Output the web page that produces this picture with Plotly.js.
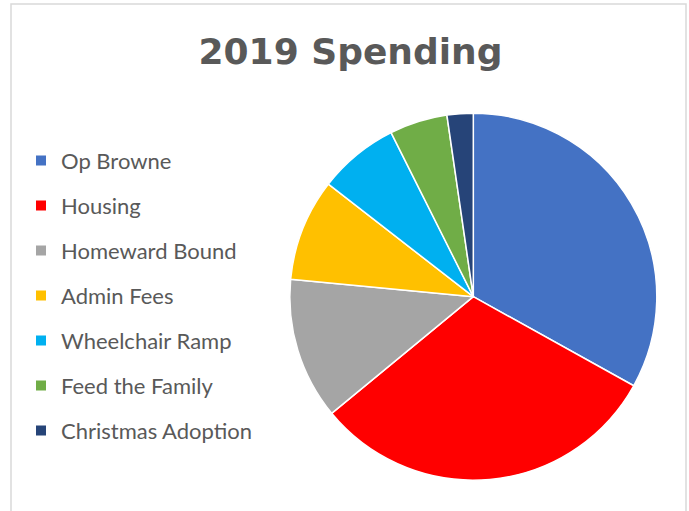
<!DOCTYPE html>
<html>
<head>
<meta charset="utf-8">
<script src="https://cdn.plot.ly/plotly-3.0.1.min.js"></script>
<style>
  html, body { margin: 0; padding: 0; background: #ffffff; }
  #chart { width: 689px; height: 511px; }
</style>
</head>
<body>
<div id="chart"></div>
<script>
// Data (shares of 2019 spending, %)
var categories = ["Op Browne", "Housing", "Homeward Bound", "Admin Fees", "Wheelchair Ramp", "Feed the Family", "Christmas Adoption"];
var values = [33.1, 31.0, 12.5, 9.0, 7.1, 5.1, 2.3];
var colors = ["#4472C4", "#FF0000", "#A5A5A5", "#FFC000", "#00B0F0", "#70AD47", "#264478"];
var chartTitle = "2019 Spending";

var W = 689, H = 511;
var textColor = "#595959";

var traces = [{
  type: "pie",
  labels: categories,
  values: values,
  sort: false,
  direction: "clockwise",
  rotation: 0,
  textinfo: "none",
  hoverinfo: "label+percent",
  showlegend: false,
  marker: { colors: colors, line: { color: "#ffffff", width: 1.5 } },
  domain: { x: [289.8 / W, 656.8 / W], y: [1 - 480.2 / H, 1 - 113.2 / H] }
}];

// legend entries (one per category, same arrays)
categories.forEach(function (c, i) {
  traces.push({
    type: "scatter",
    mode: "markers",
    x: [null], y: [null],
    name: c,
    legendgroup: c,
    marker: { symbol: "square", size: 10, color: colors[i] },
    hoverinfo: "skip",
    showlegend: true
  });
});

var layout = {
  width: W, height: H,
  margin: { l: 0, r: 0, t: 0, b: 0 },
  paper_bgcolor: "#ffffff",
  plot_bgcolor: "rgba(0,0,0,0)",
  xaxis: { visible: false, fixedrange: true },
  yaxis: { visible: false, fixedrange: true },
  title: {
    text: "<b>" + chartTitle + "</b>",
    font: { family: "DejaVu Sans, Liberation Sans, Arial, sans-serif", size: 36, color: textColor },
    x: 350.5 / W, xanchor: "center", xref: "paper",
    y: 1 - 51 / H, yanchor: "middle", yref: "container"
  },
  showlegend: true,
  legend: {
    x: 21 / W, xanchor: "left",
    y: 1 - 139.7 / H, yanchor: "top",
    traceorder: "grouped",
    tracegroupgap: 13.4,
    font: { family: "Lato, Open Sans, sans-serif", size: 22, color: textColor },
    bgcolor: "rgba(0,0,0,0)",
    itemclick: false, itemdoubleclick: false
  },
  shapes: [{
    type: "rect", xref: "paper", yref: "paper",
    x0: 11 / W, x1: 686 / W, y0: -0.2, y1: 1 - 4 / H,
    line: { color: "#D9D9D9", width: 1.5 },
    fillcolor: "rgba(0,0,0,0)", layer: "below"
  }]
};

Plotly.newPlot("chart", traces, layout, { staticPlot: true, displayModeBar: false });
</script>
</body>
</html>
